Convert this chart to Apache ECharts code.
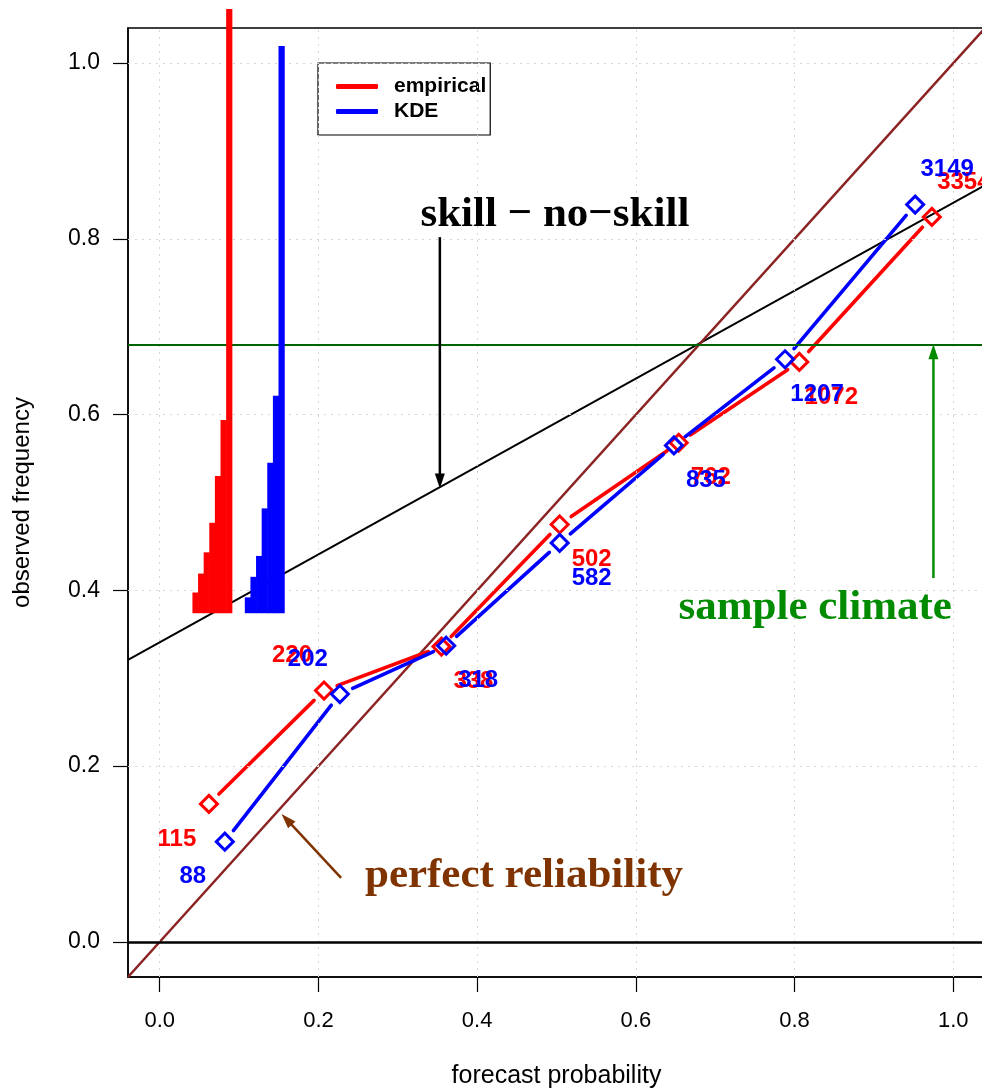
<!DOCTYPE html>
<html>
<head>
<meta charset="utf-8">
<title>reliability diagram</title>
<script src="https://cdn.jsdelivr.net/npm/echarts@6/dist/echarts.min.js"></script>
<style>
  html, body { margin: 0; padding: 0; background: #fff; }
  #main { width: 982px; height: 1091px; }
</style>
</head>
<body>
<div id="main"></div>
<script>
// axis ticks
var tickValues = [0, 0.2, 0.4, 0.6, 0.8, 1.0];

// reliability points (forecast prob, observed freq) and bin counts
var empX = [0.062, 0.207, 0.355, 0.504, 0.654, 0.806, 0.973];
var empY = [0.157, 0.286, 0.336, 0.475, 0.568, 0.660, 0.825];
var empN = [115, 220, 338, 502, 762, 1072, 3354];

var kdeX = [0.082, 0.227, 0.361, 0.504, 0.648, 0.788, 0.952];
var kdeY = [0.114, 0.282, 0.337, 0.454, 0.565, 0.663, 0.839];
var kdeN = [88, 202, 318, 582, 835, 1207, 3149];

// sample climate (observed base rate)
var climate = 0.682;

// label placement around each point (-1/1 per axis)
var labDirX = [-1, -1, 1, 1, 1, 1, 1];
var labDirY = [1, -1, 1, 1, 1, 1, -1];

var xMin = -0.04, xMax = 1.04, yMin = -0.04, yMax = 1.04;

// inset histogram layout (data units)
var histBase = 0.374, histScale = 0.000205, histBarW = 0.00708;
var empHistX = 0.0412, kdeHistX = 0.1072;

var RED = '#ff0000', BLUE = '#0000ff';

var chart = echarts.init(document.getElementById('main'));

function pairs(xs, ys) {
  var out = [];
  for (var i = 0; i < xs.length - 1; i++) out.push([xs[i], ys[i], xs[i + 1], ys[i + 1]]);
  return out;
}

// segments with a gap round each point, like R type="b"
function segRender(color) {
  return function (params, api) {
    var p0 = api.coord([api.value(0), api.value(1)]);
    var p1 = api.coord([api.value(2), api.value(3)]);
    var dx = p1[0] - p0[0], dy = p1[1] - p0[1];
    var g = 14 / Math.sqrt(dx * dx + dy * dy);
    return {
      type: 'line',
      shape: { x1: p0[0] + dx * g, y1: p0[1] + dy * g, x2: p1[0] - dx * g, y2: p1[1] - dy * g },
      style: { stroke: color, lineWidth: 3.6, lineCap: 'round' }
    };
  };
}

function histRender(startX, color) {
  return function (params, api) {
    var x = startX + api.value(1) * histBarW;
    var a = api.coord([x, histBase + api.value(0) * histScale]);
    var b = api.coord([x + histBarW, histBase]);
    return {
      type: 'rect',
      shape: { x: a[0], y: a[1], width: b[0] - a[0] + 0.6, height: b[1] - a[1] },
      style: { fill: color }
    };
  };
}

function pointData(xs, ys, ns) {
  return xs.map(function (x, i) {
    return { value: [x, ys[i], ns[i]], label: { offset: [32 * labDirX[i], 35 * labDirY[i]] } };
  });
}

function pointSeries(xs, ys, ns, color) {
  return {
    type: 'scatter', z: 5, symbol: 'diamond', symbolSize: 17,
    itemStyle: { color: 'rgba(0,0,0,0)', borderColor: color, borderWidth: 3, opacity: 1 },
    label: {
      show: true, position: 'inside', color: color,
      fontFamily: 'Liberation Sans', fontWeight: 'bold', fontSize: 24,
      formatter: function (p) { return p.value[2]; }
    },
    data: pointData(xs, ys, ns)
  };
}

// annotations
var notes = [
  [0.498, 0.827, 'skill \u2212 no\u2212skill', '#000000'],
  [0.826, 0.380, 'sample climate', '#008b00'],
  [0.459, 0.075, 'perfect reliability', '#7f3300']
];
var arrows = [
  [0.353, 0.802, 0.353, 0.516, '#000000'],
  [0.975, 0.414, 0.975, 0.680, '#008b00'],
  [0.2285, 0.0728, 0.1535, 0.1456, '#7f3300']
];

var tickFont = { fontFamily: 'Liberation Sans', fontSize: 22, color: '#000' };

option = {
  backgroundColor: '#fff',
  animation: false,
  grid: {
    left: 128, top: 28, width: 857, height: 949,
    outerBoundsMode: 'none', containLabel: false,
    show: true, borderColor: '#000', borderWidth: 1.5
  },
  legend: {
    orient: 'vertical',
    left: 318, top: 63,
    padding: [13, 4, 13, 18],
    itemGap: 4,
    itemWidth: 42, itemHeight: 5,
    borderColor: '#000', borderWidth: 1.2,
    backgroundColor: '#fff',
    selectedMode: false,
    textStyle: { fontFamily: 'Liberation Sans', fontWeight: 'bold', fontSize: 21, color: '#000', padding: [0, 0, 0, 11] },
    data: [
      { name: 'empirical', icon: 'roundRect', itemStyle: { color: RED } },
      { name: 'KDE', icon: 'roundRect', itemStyle: { color: BLUE } }
    ]
  },
  xAxis: {
    type: 'value', min: xMin, max: xMax,
    name: 'forecast probability', nameLocation: 'middle', nameGap: 87,
    nameTextStyle: { fontFamily: 'Liberation Sans', fontSize: 25, color: '#000' },
    axisLine: { show: true, onZero: false, lineStyle: { color: '#000', width: 1.5 } },
    axisTick: { show: true, inside: false, length: 15, customValues: tickValues, lineStyle: { color: '#000', width: 1.2 } },
    axisLabel: Object.assign({
      customValues: tickValues, margin: 33,
      formatter: function (v) { return v.toFixed(1); }
    }, tickFont),
    splitLine: { show: false }
  },
  yAxis: {
    type: 'value', min: yMin, max: yMax,
    name: 'observed frequency', nameLocation: 'middle', nameGap: 94, nameRotate: 90,
    nameTextStyle: { fontFamily: 'Liberation Sans', fontSize: 24, color: '#000' },
    axisLine: { show: true, onZero: false, lineStyle: { color: '#000', width: 1.5 } },
    axisTick: { show: true, inside: false, length: 15, customValues: tickValues, lineStyle: { color: '#000', width: 1.2 } },
    axisLabel: Object.assign({
      customValues: tickValues, margin: 28,
      formatter: function (v) { return v.toFixed(1); }
    }, tickFont, { fontSize: 23 }),
    splitLine: { show: false }
  },
  series: [
    {
      // dotted grid
      type: 'line', data: [], silent: true, z: 1,
      markLine: {
        silent: true, symbol: 'none', label: { show: false }, animation: false,
        lineStyle: { color: '#d6d6d6', type: [2, 5], width: 1 },
        data: tickValues.map(function (v) { return { xAxis: v }; })
          .concat(tickValues.map(function (v) { return { yAxis: v }; }))
      }
    },
    {
      type: 'line', data: [], silent: true, z: 2,
      markLine: {
        silent: true, symbol: 'none', label: { show: false }, animation: false,
        data: [
          { yAxis: 0, lineStyle: { color: '#000', type: 'solid', width: 2.5 } },
          { yAxis: climate, lineStyle: { color: '#006400', type: 'solid', width: 2 } }
        ]
      }
    },
    {
      // no-skill line
      type: 'line', silent: true, z: 2, symbol: 'none',
      lineStyle: { color: '#000', width: 2 },
      data: [[xMin, (xMin + climate) / 2], [xMax, (xMax + climate) / 2]]
    },
    {
      // perfect reliability diagonal
      type: 'line', silent: true, z: 2, symbol: 'none',
      lineStyle: { color: '#8b2323', width: 2.5 },
      data: [[xMin, xMin], [xMax, xMax]]
    },
    {
      name: 'empirical', type: 'custom', z: 4,
      itemStyle: { color: RED },
      renderItem: segRender(RED),
      data: pairs(empX, empY)
    },
    {
      name: 'KDE', type: 'custom', z: 4,
      itemStyle: { color: BLUE },
      renderItem: segRender(BLUE),
      data: pairs(kdeX, kdeY)
    },
    pointSeries(empX, empY, empN, RED),
    pointSeries(kdeX, kdeY, kdeN, BLUE),
    {
      // inset histograms of forecast counts
      type: 'custom', z: 6, clip: false, silent: true,
      renderItem: histRender(empHistX, RED),
      data: empN.map(function (n, i) { return [n, i]; })
    },
    {
      type: 'custom', z: 6, clip: false, silent: true,
      renderItem: histRender(kdeHistX, BLUE),
      data: kdeN.map(function (n, i) { return [n, i]; })
    },
    {
      type: 'custom', z: 7, clip: false, silent: true,
      renderItem: function (params, api) {
        var n = notes[params.dataIndex];
        var p = api.coord([n[0], n[1]]);
        return {
          type: 'text', x: p[0], y: p[1],
          style: {
            text: n[2], fill: n[3], align: 'center', verticalAlign: 'middle',
            font: 'bold 43px "Liberation Serif", "DejaVu Serif", serif'
          }
        };
      },
      data: notes.map(function (n) { return [n[0], n[1]]; })
    },
    {
      type: 'custom', z: 7, clip: false, silent: true,
      renderItem: function (params, api) {
        var a = arrows[params.dataIndex];
        var p0 = api.coord([a[0], a[1]]), p1 = api.coord([a[2], a[3]]);
        var dx = p1[0] - p0[0], dy = p1[1] - p0[1];
        var len = Math.sqrt(dx * dx + dy * dy), ux = dx / len, uy = dy / len;
        var hl = 15, hw = 5;
        var bx = p1[0] - ux * hl, by = p1[1] - uy * hl;
        return {
          type: 'group',
          children: [
            { type: 'line', shape: { x1: p0[0], y1: p0[1], x2: bx + ux * 3, y2: by + uy * 3 }, style: { stroke: a[4], lineWidth: 2.5 } },
            { type: 'polygon', shape: { points: [[p1[0], p1[1]], [bx - uy * hw, by + ux * hw], [bx + uy * hw, by - ux * hw]] }, style: { fill: a[4] } }
          ]
        };
      },
      data: arrows.map(function (a) { return [a[0], a[1]]; })
    }
  ]
};

chart.setOption(option);
</script>
</body>
</html>
